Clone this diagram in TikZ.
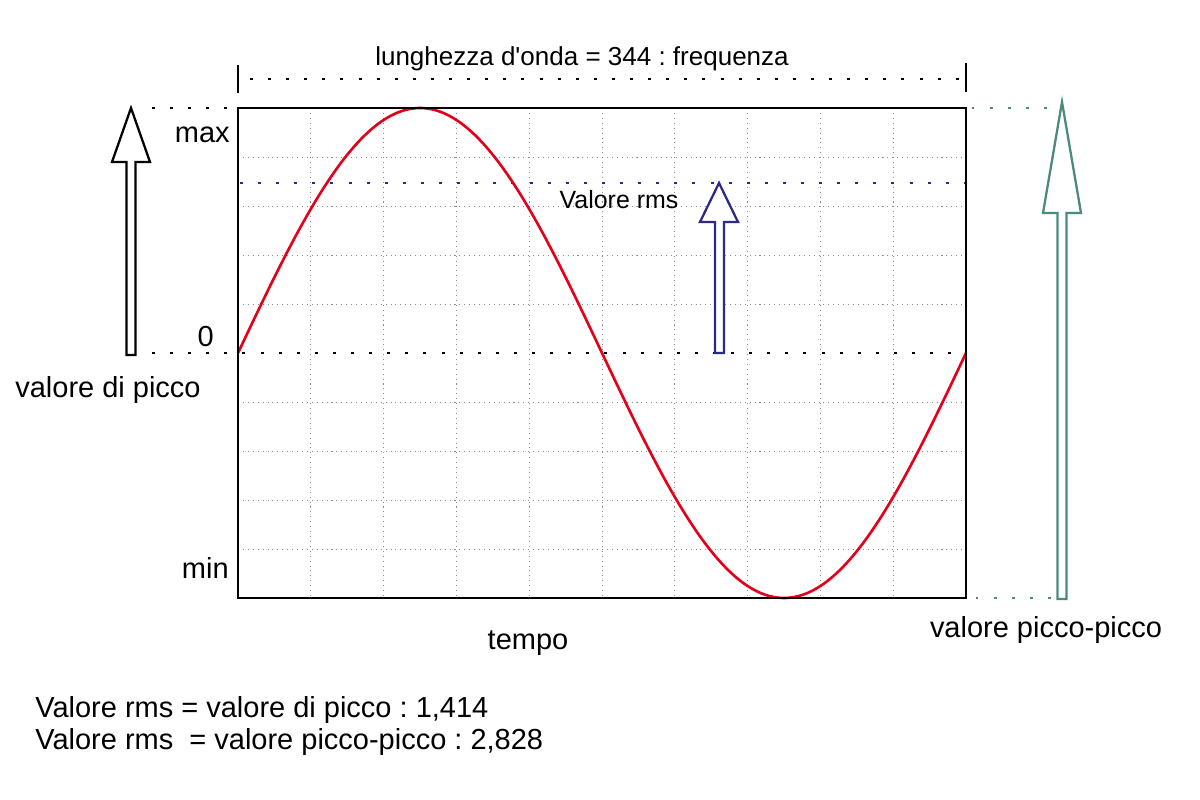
\documentclass[tikz,border=0pt]{standalone}
\usepackage{fontspec}
\setmainfont{Liberation Sans}[Ligatures=TeXOff]
\usetikzlibrary{positioning, calc}
\definecolor{wavered}{HTML}{E3001B}
\definecolor{rmsblue}{HTML}{2D2A87}
\definecolor{ppgreen}{HTML}{4B8A7D}
\definecolor{gridgray}{HTML}{8C8C8C}
\frenchspacing

\begin{document}
\begin{tikzpicture}[
  x=0.02cm, y=-0.02cm,
  line join=miter,
  frame/.style  = {draw=black, line width=1.1pt},
  gridln/.style = {draw=gridgray, line width=0.55pt, dash pattern=on 0.6pt off 2.2pt},
  dotln/.style  = {line width=1.7pt, dash pattern=on 1.7pt off 8.6pt},
  thindot/.style= {line width=1.4pt, dash pattern=on 1.4pt off 8.9pt},
  hollow/.style = {line width=1.3pt, fill=white},
  big/.style    = {font=\fontsize{16.5}{19}\selectfont, inner sep=0pt},
  mid/.style    = {font=\fontsize{14.8}{17}\selectfont, inner sep=0pt},
  small/.style  = {font=\fontsize{14.2}{17}\selectfont, inner sep=0pt}
]
\useasboundingbox (0,0) rectangle (1200,800);

% griglia
\foreach \i in {1,...,9}{
  \draw[gridln] ({238+72.8*\i},108) -- ({238+72.8*\i},598);
}
\foreach \j in {1,2,3,4,6,7,8,9}{
  \draw[gridln] (238,{108+49*\j}) -- (966,{108+49*\j});
}

% livelli
\draw[dotln] (152,108) -- (238,108);
\draw[dotln] (152,353) -- (966,353);
\draw[dotln, rmsblue] (240,183) -- (966,183);
\draw[thindot, ppgreen] (972,108) -- (1050,108);
\draw[thindot, ppgreen] (976,598) -- (1052,598);

% onda
\draw[wavered, line width=1.5pt, domain=0:360, samples=120, smooth]
  plot ({238+2.02222*\x}, {353-245*sin(\x)});

\draw[frame] (238,108) rectangle (966,598);

% lunghezza d'onda
\draw[line width=1.6pt] (238,65) -- (238,93);
\draw[line width=1.6pt] (966,63) -- (966,92);
\draw[dotln] (250,79) -- (962,79);
\node[mid] (lambda) at (582,59) {lunghezza d'onda = 344 : frequenza};

% frecce
\draw[hollow, draw=black] (131,108) -- (150,162) -- (135.5,162) -- (135.5,355)
  -- (126.5,355) -- (126.5,162) -- (112,162) -- cycle;
\draw[hollow, draw=rmsblue] (719,183) -- (738,222) -- (724,222) -- (724,353)
  -- (715,353) -- (715,222) -- (700,222) -- cycle;
\draw[hollow, draw=ppgreen] (1062,102) -- (1081,213) -- (1066.5,213) -- (1066.5,599)
  -- (1057.5,599) -- (1057.5,213) -- (1043,213) -- cycle;

% testi
\node[big, anchor=east] (vmax) at (230,135) {max};
\node[big, anchor=east] (vzero) at (214,337) {0};
\node[big, anchor=east] (vmin) at (229,568) {min};
\node[big] (picco) at (108,390) {valore di picco};
\node[small] (rms) at (619,200) {Valore rms};
\node[big] (tempo) at (528,643) {tempo};
\node[big] (pp) at (1046,630) {valore picco-picco};
\node[big, anchor=west] (f1) at (35,710) {Valore rms = valore di picco : 1,414};
\node[big, anchor=west] (f2) at (35,742) {Valore rms \ = valore picco-picco : 2,828};

\end{tikzpicture}
\end{document}
